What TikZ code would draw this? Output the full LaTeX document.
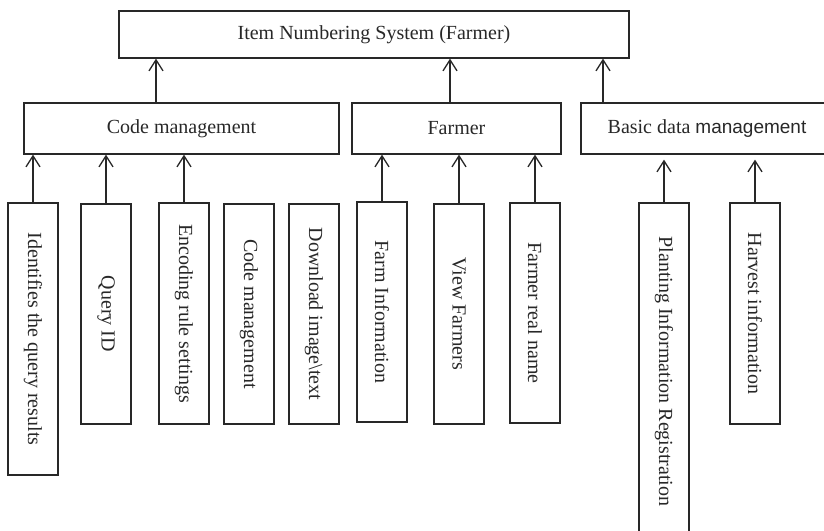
\documentclass[tikz,border=0pt]{standalone}
\usepackage{fontspec}
\setmainfont{Liberation Serif}
\newfontfamily\arialfont{Liberation Sans}
\usepackage{xcolor}
\usetikzlibrary{arrows.meta}
\definecolor{ink}{RGB}{40,40,40}

\begin{document}
\begin{tikzpicture}[x=1pt,y=1pt,
  box/.style={draw=ink,line width=1.3pt,fill=white,inner sep=0pt,font=\fontsize{20}{24}\selectfont,text=ink,align=center},
  leaf/.style={box,minimum height=50pt,rotate=-90},
  arr/.style={-{Straight Barb[length=11pt,width=14pt,line width=1.3pt]},draw=ink,line width=1.3pt}
]
\clip (0,0) rectangle (824,-530);
\fill[white] (0,0) rectangle (824,-530);
% top level
\node[box,minimum width=510pt,minimum height=47pt] (top) at (374,-34.5) {Item Numbering System (Farmer)};
% second level
\node[box,minimum width=315pt,minimum height=51pt] (cm) at (181.5,-128.5) {Code management};
\node[box,minimum width=209pt,minimum height=51pt] (farmer) at (456.5,-128.5) {Farmer};
\node[box,minimum width=252pt,minimum height=51pt] (basic) at (707,-128.5) {Basic data {\arialfont\fontsize{19}{24}\selectfont management}};
% leaves (rotated, so minimum width is the box height on the page)
\node[leaf,minimum width=272pt] (idr) at (33,-339) {Identifies the query results};
\node[leaf,minimum width=220pt] (qid) at (106,-314) {Query ID};
\node[leaf,minimum width=221pt] (enc) at (184,-313.5) {Encoding rule settings};
\node[leaf,minimum width=220pt] (cmg) at (249,-314) {Code management};
\node[leaf,minimum width=220pt] (dl) at (314,-314) {Download image\textbackslash text};
\node[leaf,minimum width=220pt] (fi) at (382,-312) {Farm Information};
\node[leaf,minimum width=220pt] (vf) at (459,-314) {View Farmers};
\node[leaf,minimum width=220pt] (frn) at (535,-313) {Farmer real name};
\node[leaf,minimum width=337pt] (pir) at (664,-371.5) {Planting Information Registration};
\node[leaf,minimum width=221pt] (hi) at (755,-313.5) {Harvest information};

\draw[arr] ([xshift=-25.5pt]cm.north) -- ([xshift=-25.5pt]cm.north |- top.south);
\draw[arr] ([xshift=-6.5pt]farmer.north) -- ([xshift=-6.5pt]farmer.north |- top.south);
\draw[arr] ([xshift=-104pt]basic.north) -- ([xshift=-104pt]basic.north |- top.south);
\draw[arr] (idr.west) -- (idr.west |- cm.south);
\draw[arr] (qid.west) -- (qid.west |- cm.south);
\draw[arr] (enc.west) -- (enc.west |- cm.south);
\draw[arr] (fi.west) -- (fi.west |- farmer.south);
\draw[arr] (vf.west) -- (vf.west |- farmer.south);
\draw[arr] (frn.west) -- (frn.west |- farmer.south);
\draw[arr] (pir.west) -- ([yshift=-5pt]pir.west |- basic.south);
\draw[arr] (hi.west) -- ([yshift=-5pt]hi.west |- basic.south);
\end{tikzpicture}
\end{document}
